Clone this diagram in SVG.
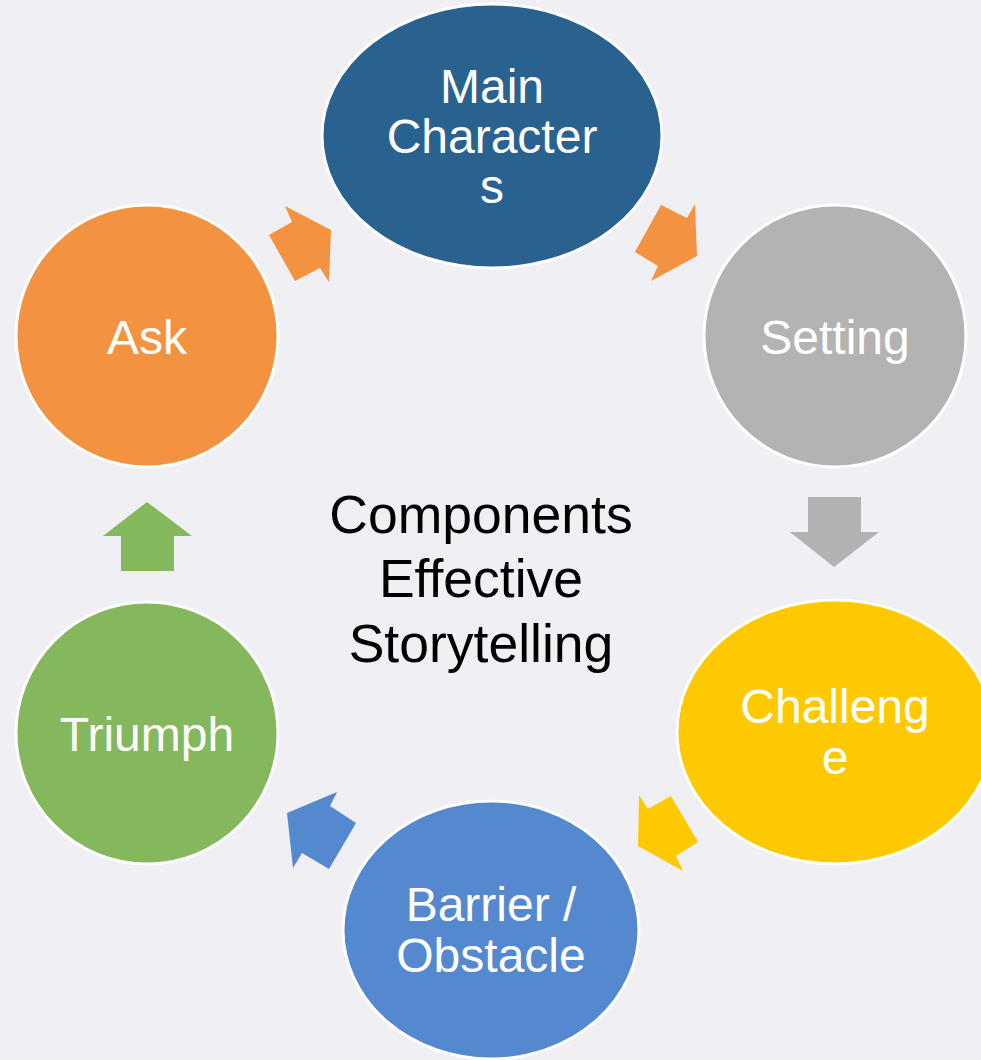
<svg xmlns="http://www.w3.org/2000/svg" width="981" height="1060" viewBox="0 0 981 1060">
<style>
.node{stroke:#ffffff;stroke-width:3}
.lbl{font-family:"Liberation Sans",Arial,sans-serif;font-size:48px;fill:#ffffff;text-anchor:middle}
.ctr{font-family:"Liberation Sans",Arial,sans-serif;font-size:53.5px;fill:#000000;text-anchor:middle}
</style>
<rect x="0" y="0" width="981" height="1060" fill="#EFEFF4"/>
<g id="connectors">
<polygon points="269,235 292,222 285,206 331,230 329,282 320,268 295,281" fill="#F39341"/>
<polygon points="635,252 661,205 687,218 695,204 697,256 651,281 658,266" fill="#F39341"/>
<polygon points="808,497 861,497 861,532 879,532 834,567 790,532 808,532" fill="#B2B2B2"/>
<polygon points="639,795 648,809 671,796 698,842 676,856 683,871 638,846" fill="#FFC900"/>
<polygon points="287,813 337,792 330,806 356,823 329,869 302,853 293,868" fill="#5589CF"/>
<polygon points="147,502 192,536 174,536 174,571 121,571 121,536 103,536" fill="#84B85C"/>
</g>
<g id="node-main">
<ellipse class="node" cx="492" cy="136" rx="170" ry="132" fill="#2A628F"/>
<text class="lbl" x="492" y="103">Main</text>
<text class="lbl" x="492" y="153">Character</text>
<text class="lbl" x="492" y="203">s</text>
</g>
<g id="node-setting">
<circle class="node" cx="835" cy="336" r="131" fill="#B3B3B3"/>
<text class="lbl" x="835" y="354">Setting</text>
</g>
<g id="node-challenge">
<ellipse class="node" cx="835" cy="732" rx="158" ry="132" fill="#FFC900"/>
<text class="lbl" x="835" y="723">Challeng</text>
<text class="lbl" x="835" y="774">e</text>
</g>
<g id="node-barrier">
<ellipse class="node" cx="491" cy="930" rx="148" ry="129" fill="#5589CF"/>
<text class="lbl" x="491" y="921">Barrier /</text>
<text class="lbl" x="491" y="972">Obstacle</text>
</g>
<g id="node-triumph">
<circle class="node" cx="147" cy="733" r="131" fill="#85B75C"/>
<text class="lbl" x="147" y="751">Triumph</text>
</g>
<g id="node-ask">
<circle class="node" cx="147" cy="336" r="131" fill="#F39341"/>
<text class="lbl" x="147" y="354">Ask</text>
</g>
<g id="center-title">
<text class="ctr" x="481" y="533">Components</text>
<text class="ctr" x="481" y="597">Effective</text>
<text class="ctr" x="481" y="662">Storytelling</text>
</g>
</svg>
